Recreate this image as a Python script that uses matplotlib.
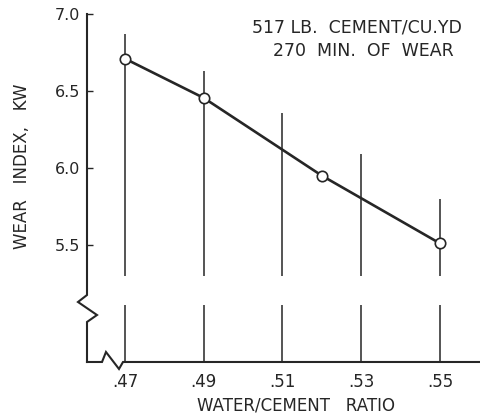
import matplotlib
matplotlib.use("Agg")
import matplotlib.pyplot as plt

# measured wear index at each water/cement ratio
ratio = [0.47, 0.49, 0.52, 0.55]
wear = [6.71, 6.455, 5.95, 5.51]

# range lines drawn at every labelled ratio
range_x = [0.47, 0.49, 0.51, 0.53, 0.55]
range_top = [6.87, 6.63, 6.36, 6.09, 5.80]

yticks = [5.5, 6.0, 6.5, 7.0]
ytick_labels = ["5.5", "6.0", "6.5", "7.0"]
xticks = [0.47, 0.49, 0.51, 0.53, 0.55]
xtick_labels = [".47", ".49", ".51", ".53", ".55"]

ink = "#262626"
lw_axis = 1.5

fig = plt.figure(figsize=(4.8, 4.18), dpi=100)
ax = fig.add_axes([0.18125, 0.134, 0.81875, 0.8325])
ax.set_xlim(0.46036, 0.56015)
ax.set_ylim(4.74, 7.0)

for s in ax.spines.values():
    s.set_visible(False)

# vertical range lines, broken across the axis gap
gap_lo, gap_hi = 5.11, 5.30
ax.vlines(range_x, gap_hi, range_top, color=ink, lw=1.1, zorder=2)
ax.vlines(range_x, 4.74, gap_lo, color=ink, lw=1.1, zorder=2)

ax.plot(ratio, wear, color=ink, lw=1.9, marker="o", ms=7.5,
        mfc="white", mec=ink, mew=1.2, zorder=3)

# axis lines with break marks (axes fraction)
yax_x = [0, 0, -0.0229, 0.0254, 0, 0]
yax_y = [1.0, 0.1925, 0.1724, 0.135, 0.115, 0.0]
ax.plot(yax_x, yax_y, transform=ax.transAxes, color=ink, lw=lw_axis,
        clip_on=False, solid_joinstyle="miter")
xax_x = [0, 0.0382, 0.0483, 0.0814, 0.0916, 1.0]
xax_y = [0, 0, 0.0287, -0.0201, 0, 0]
ax.plot(xax_x, xax_y, transform=ax.transAxes, color=ink, lw=lw_axis,
        clip_on=False, solid_joinstyle="miter")

ax.set_yticks(yticks)
ax.set_yticklabels(ytick_labels)
ax.tick_params(axis="y", direction="in", length=4, width=1, color=ink,
               labelsize=11.5, labelcolor=ink, pad=5)
ax.set_xticks(xticks)
ax.set_xticklabels(xtick_labels)
ax.tick_params(axis="x", length=0, labelsize=12, labelcolor=ink, pad=8)

ax.set_xlabel("WATER/CEMENT   RATIO", fontsize=12, color=ink)
ax.xaxis.set_label_coords(0.532, -0.098)
fig.text(0.046, 0.603, "WEAR   INDEX,   KW", rotation=90, fontsize=12,
         color=ink, ha="center", va="center")

fig.text(0.744, 0.935, "517 LB.  CEMENT/CU.YD", fontsize=12.5, color=ink,
         ha="center", va="center")
fig.text(0.758, 0.878, "270  MIN.  OF  WEAR", fontsize=12.5, color=ink,
         ha="center", va="center")

fig.savefig("out.png", dpi=100, facecolor="white")
